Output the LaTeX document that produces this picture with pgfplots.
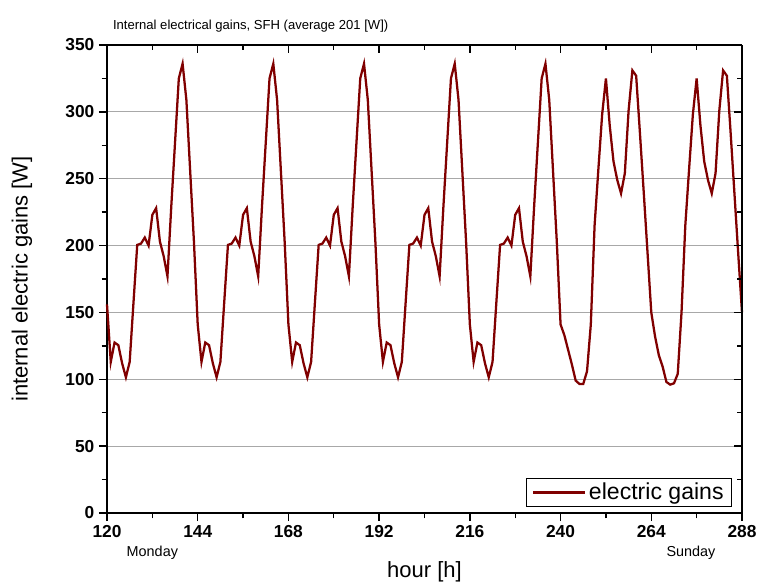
\documentclass[border=0pt]{standalone}
\usepackage{fontspec}
\setmainfont{Liberation Sans}
\usepackage{pgfplots}
\pgfplotsset{compat=1.18}
\usepackage{pgfplotstable}

\definecolor{gainred}{HTML}{800000}
\definecolor{gridgray}{HTML}{A8A8A8}

% hourly internal electrical gains, hour 120 (Monday 0:00) to 288
\pgfplotstableread{
h q
120 156
121 113
122 127.5
123 125.5
124 112
125 101.5
126 113
127 157
128 200.5
129 201.5
130 206
131 200
132 223
133 228
134 203
135 192
136 177
137 229
138 277
139 325
140 336
141 309
142 256
143 203
144 141
145 113
146 127.5
147 125.5
148 112
149 101.5
150 113
151 157
152 200.5
153 201.5
154 206
155 200
156 223
157 228
158 203
159 192
160 177
161 229
162 277
163 325
164 336
165 309
166 256
167 203
168 141
169 113
170 127.5
171 125.5
172 112
173 101.5
174 113
175 157
176 200.5
177 201.5
178 206
179 200
180 223
181 228
182 203
183 192
184 177
185 229
186 277
187 325
188 336
189 309
190 256
191 203
192 141
193 113
194 127.5
195 125.5
196 112
197 101.5
198 113
199 157
200 200.5
201 201.5
202 206
203 200
204 223
205 228
206 203
207 192
208 177
209 229
210 277
211 325
212 336
213 309
214 256
215 203
216 141
217 113
218 127.5
219 125.5
220 112
221 101.5
222 113
223 157
224 200.5
225 201.5
226 206
227 200
228 223
229 228
230 203
231 192
232 177
233 229
234 277
235 325
236 336
237 309
238 256
239 203
240 141
241 133
242 122
243 111
244 99
245 96.5
246 96.5
247 106
248 141
249 215
250 257
251 298
252 325
253 290
254 263
255 249
256 239
257 254
258 301
259 331
260 327
261 284
262 240
263 195
264 150
265 132
266 118
267 109.5
268 98
269 96
270 97
271 104
272 150
273 215
274 257
275 298
276 325
277 290
278 263
279 249
280 239
281 254
282 301
283 331
284 327
285 284
286 239
287 194
288 150
}\gains

\begin{document}
\begin{tikzpicture}
\useasboundingbox (-80.25pt,-52.5pt) rectangle (488.25pt,384.75pt);
\begin{axis}[
    name=ax,
    width=476.25pt, height=351pt, scale only axis,
    xmin=120, xmax=288, ymin=0, ymax=350,
    xtick={120,144,...,288}, minor x tick num=1,
    ytick={0,50,...,350}, minor y tick num=1,
    axis x line*=bottom, axis y line*=left,
    axis line style={line width=1.2pt},
    tick align=outside,
    major tick length=6pt, minor tick length=4pt,
    tick style={black, line width=1pt},
    ymajorgrids,
    grid style={gridgray, line width=0.8pt},
    /pgf/number format/assume math mode=true,
    /pgf/number format/1000 sep={},
    tick label style={font=\bfseries\fontsize{13}{15}\selectfont},
    clip=false,
    legend style={at={(1,0)}, anchor=south east, xshift=-7.5pt, yshift=4.5pt,
        draw=black, line width=0.6pt, font=\fontsize{17.3}{19}\selectfont,
        inner xsep=4pt, inner ysep=1.5pt},
    legend image code/.code={\draw[#1] (0pt,0pt) -- (39pt,0pt);},
]
\addplot[gainred, line width=1.7pt] table[x=h, y=q] {\gains};
\addlegendentry{electric gains}
\node[font=\fontsize{10.8}{12}\selectfont, yshift=-30pt] at (axis cs:132,0) {Monday};
\node[font=\fontsize{10.8}{12}\selectfont, yshift=-30pt] at (axis cs:274.5,0) {Sunday};
\end{axis}
\begin{axis}[
    width=476.25pt, height=351pt, scale only axis,
    xmin=120, xmax=288, ymin=0, ymax=350,
    xtick={120,144,...,288}, minor x tick num=1,
    ytick={0,50,...,350}, minor y tick num=1,
    axis x line*=top, axis y line*=right,
    axis line style={line width=1.2pt},
    tick align=inside,
    major tick length=6pt, minor tick length=4pt,
    tick style={black, line width=1pt},
    xticklabels={}, yticklabels={},
]
\end{axis}
\node[rotate=90, font=\fontsize{16.5}{18}\selectfont] at ([xshift=-63.75pt]ax.west) {internal electric gains [W]};
\node[font=\fontsize{16.5}{18}\selectfont] at ([yshift=-44pt]ax.south) {hour [h]};
\node[anchor=base west, font=\fontsize{9.8}{12}\selectfont] at ([xshift=1pt,yshift=12pt]ax.north west) {Internal electrical gains, SFH (average 201 [W])};
\end{tikzpicture}
\end{document}
